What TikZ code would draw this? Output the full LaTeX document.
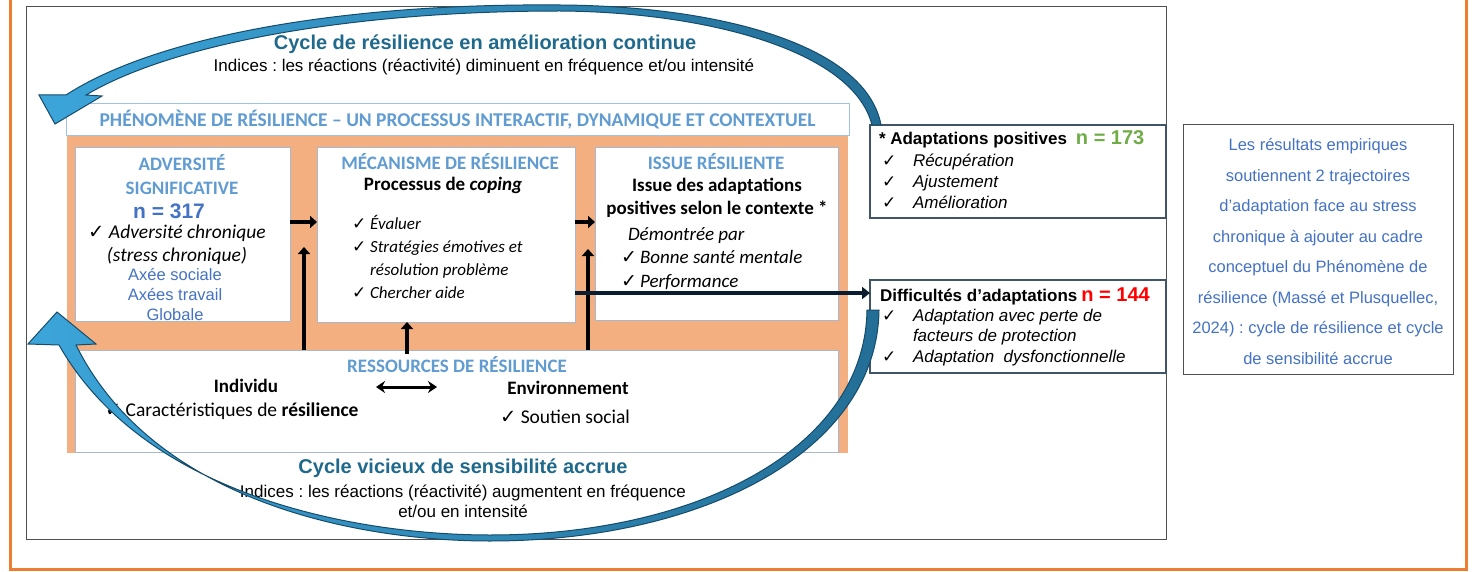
\documentclass[tikz,border=0pt]{standalone}
\usepackage{fontspec}
\setmainfont{Liberation Sans}
\newfontfamily\calib{Carlito}
\newfontfamily\dvs{DejaVu Sans}
\usetikzlibrary{arrows.meta}
\newcommand\ck{{\dvs\char"2713}}
\definecolor{frameor}{RGB}{237,125,49}
\definecolor{framegray}{RGB}{80,80,80}
\definecolor{salmon}{RGB}{243,175,128}
\definecolor{hdrblue}{RGB}{96,156,210}
\definecolor{hdrlight}{RGB}{157,195,230}
\definecolor{txtblue}{RGB}{68,114,196}
\definecolor{cyctitle}{RGB}{31,105,140}
\definecolor{arrlight}{RGB}{60,165,218}
\definecolor{arrdark}{RGB}{35,110,150}
\definecolor{arrline}{RGB}{22,75,105}
\definecolor{boxline}{RGB}{170,184,204}
\definecolor{darkline}{RGB}{64,86,104}
\definecolor{navyarr}{RGB}{10,28,48}
\definecolor{grn}{RGB}{112,173,71}
\definecolor{rd}{RGB}{255,0,0}
\frenchspacing
\begin{document}
\begin{tikzpicture}[x=1pt,y=-1pt,
  every node/.style={inner sep=0pt, outer sep=0pt},
  boxn/.style={draw=boxline, line width=1pt, fill=white, anchor=north west},
  rbox/.style={draw=darkline, line width=1.2pt, fill=white, anchor=north west},
  hdr/.style={font={\calib\bfseries\fontsize{19}{24}\selectfont}, text=hdrblue, align=center},
  cbold/.style={font={\calib\bfseries\fontsize{19}{23}\selectfont}, align=center},
  citl/.style={font={\calib\itshape\fontsize{19}{23.5}\selectfont}, align=left},
  creg/.style={font={\calib\fontsize{19.5}{24}\selectfont}},
  cyct/.style={font={\bfseries\fontsize{20}{24}\selectfont}, text=cyctitle},
  ind/.style={font={\fontsize{17}{20}\selectfont}, align=center},
  arl/.style={font={\fontsize{16.5}{20}\selectfont}, text=txtblue, align=center},
  blkarr/.style={line width=4.5pt, -{Triangle[length=7pt,width=12pt]}},
  cyc/.style={left color=arrlight, right color=arrdark, draw=arrline, line width=1pt}
]
\useasboundingbox (0,0) rectangle (1472,572);
% orange frame
\draw[frameor, line width=3pt] (10,-2) -- (10,569.5) -- (1466,569.5) -- (1466,-2);
% main frame
\node[draw=framegray, line width=1pt, minimum width=1140pt, minimum height=532pt, anchor=north west] (main) at (26,7) {};
% top cycle texts
\node[cyct] (ct1) at (485,44) {Cycle de résilience en amélioration continue};
\node[ind] (ci1) at (484,67) {Indices : les réactions (réactivité) diminuent en fréquence et/ou intensité};
% phenomene block
\node[fill=salmon, minimum width=781pt, minimum height=317pt, anchor=north west] (org) at (67,136) {};
\node[draw=hdrlight, line width=1pt, fill=white, minimum width=783pt, minimum height=32pt, anchor=north west, hdr, font={\calib\bfseries\fontsize{19.5}{24}\selectfont}] (phen) at (66,104) {PHÉNOMÈNE DE RÉSILIENCE – UN PROCESSUS INTERACTIF, DYNAMIQUE ET CONTEXTUEL};
% boxes
\node[boxn, minimum width=215pt, minimum height=173pt] (adv) at (75,148) {};
\node[boxn, minimum width=258pt, minimum height=174pt] (mec) at (317,148) {};
\node[boxn, minimum width=243pt, minimum height=172pt] (iss) at (595,148) {};
\node[boxn, minimum width=763pt, minimum height=102pt] (res) at (75,350) {};
% adversite
\node[hdr] (advt) at (182,175) {ADVERSITÉ\\SIGNIFICATIVE};
\node[font={\bfseries\fontsize{21}{24}\selectfont}, text=txtblue] (n317) at (169,211) {n = 317};
\node[citl, align=center, font={\calib\itshape\fontsize{19.5}{23}\selectfont}] (advc) at (177,245) {\ck\ Adversité chronique\\(stress chronique)};
\node[arl] (axes) at (175,294.5) {Axée sociale\\Axées travail\\Globale};
% mecanisme
\node[hdr] (mect) at (450,162) {MÉCANISME DE RÉSILIENCE};
\node[cbold] (proc) at (443,185) {Processus de \textit{coping}};
\node[citl, anchor=west, font={\calib\itshape\fontsize{17}{23.3}\selectfont}] (meci) at (352,257) {\ck\ Évaluer\\\ck\ Stratégies émotives et\\\phantom{\ck\ }résolution problème\\\ck\ Chercher aide};
% issue
\node[hdr] (isst) at (716,162) {ISSUE RÉSILIENTE};
\node[cbold] (issb) at (717,197.5) {Issue des adaptations\\positives selon le contexte *};
\node[citl, anchor=west] (demo) at (628,236) {Démontrée par};
\node[citl, anchor=west, font={\calib\itshape\fontsize{19}{24}\selectfont}] (issi) at (621,270) {\ck\,Bonne santé mentale\\\ck\,Performance};
% ressources
\node[hdr] (rest) at (457,365) {RESSOURCES DE RÉSILIENCE};
\node[cbold] (indv) at (246,386) {Individu};
\node[creg, anchor=west] (carac) at (105,411) {\ck\ Caractéristiques de \textbf{résilience}};
\node[cbold] (envt) at (568,388) {Environnement};
\node[creg, anchor=west] (sout) at (500,417) {\ck\ Soutien social};
% bottom cycle texts
\node[cyct] (ct2) at (463,468) {Cycle vicieux de sensibilité accrue};
\node[ind] (ci2) at (463,501) {Indices : les réactions (réactivité) augmentent en fréquence\\et/ou en intensité};
% right boxes
\node[rbox, minimum width=296pt, minimum height=93pt] (pos) at (870,125) {};
\node[rbox, minimum width=296pt, minimum height=93pt] (dif) at (870,280) {};
\node[draw=framegray, line width=1pt, fill=white, anchor=north west, minimum width=270pt, minimum height=249pt] (note) at (1183,125) {};
\node[anchor=west, font={\fontsize{17}{20}\selectfont}] (post) at (879,139) {\textbf{* Adaptations positives}\hspace{9pt}{\bfseries\fontsize{20}{20}\selectfont\color{grn}n = 173}};
\node[anchor=west, align=left, font={\fontsize{17}{21}\selectfont}] (posi) at (882,181) {\makebox[31pt][l]{\ck}\textit{Récupération}\\\makebox[31pt][l]{\ck}\textit{Ajustement}\\\makebox[31pt][l]{\ck}\textit{Amélioration}};
\node[anchor=west, font={\fontsize{17}{20}\selectfont}] (dift) at (880,296) {\textbf{Difficultés d’adaptations}\hspace{4pt}{\bfseries\fontsize{20}{20}\selectfont\color{rd}n = 144}};
\node[anchor=west, align=left, font={\fontsize{17}{20.5}\selectfont}] (difi) at (882,337.5) {\makebox[31pt][l]{\ck}\textit{Adaptation avec perte de}\\\makebox[31pt][l]{}\textit{facteurs de protection}\\\makebox[31pt][l]{\ck}\textit{Adaptation\ \ dysfonctionnelle}};
\node[arl, font={\fontsize{16.5}{30.45}\selectfont}] (notet) at (1318,251.5) {Les résultats empiriques\\soutiennent 2 trajectoires\\d’adaptation face au stress\\chronique à ajouter au cadre\\conceptuel du Phénomène de\\résilience (Massé et Plusquellec,\\2024) : cycle de résilience et cycle\\de sensibilité accrue};
% black arrows
\coordinate (a1) at (0,222);
\coordinate (v1) at (304,247);
\coordinate (v2) at (588,249);
\coordinate (v3) at (407,354);
\coordinate (d1) at (376,387);
\coordinate (d2) at (437,387);
\coordinate (l1) at (0,293);
\draw[blkarr] (adv.east |- a1) -- (mec.west |- a1);
\draw[blkarr] (mec.east |- a1) -- (iss.west |- a1);
\draw[blkarr] (res.north -| v1) -- (v1);
\draw[blkarr] (res.north -| v2) -- (v2);
\draw[blkarr] (v3) -- (mec.south -| v3);
\draw[line width=3pt, {Stealth[length=9pt,width=12pt]}-{Stealth[length=9pt,width=12pt]}] (d1) -- (d2);
\draw[navyarr, line width=4.5pt, -{Triangle[length=8pt,width=12pt]}] (mec.east |- l1) -- (dif.west |- l1);
% blue cycle arrows
\coordinate (h1) at (55,124);
\coordinate (h2) at (57,312);
\path[cyc] (881,125) .. controls (866,45) and (720,6) .. (560,5) .. controls (340,3) and (155,37) .. (66,95) -- (39,95) -- (h1) -- (102,96) -- (86,95) .. controls (170,45) and (345,11) .. (560,11) .. controls (705,12) and (853,50) .. (872,125) -- cycle;
\path[cyc] (879,310) .. controls (877,452) and (702,541) .. (490,541) .. controls (358,541) and (154,502) .. (76,345) -- (96,344) -- (h2) -- (28,344) -- (59,345) .. controls (146,498) and (360,535) .. (490,535) .. controls (698,535) and (865,448) .. (867,310) -- cycle;
\end{tikzpicture}
\end{document}
